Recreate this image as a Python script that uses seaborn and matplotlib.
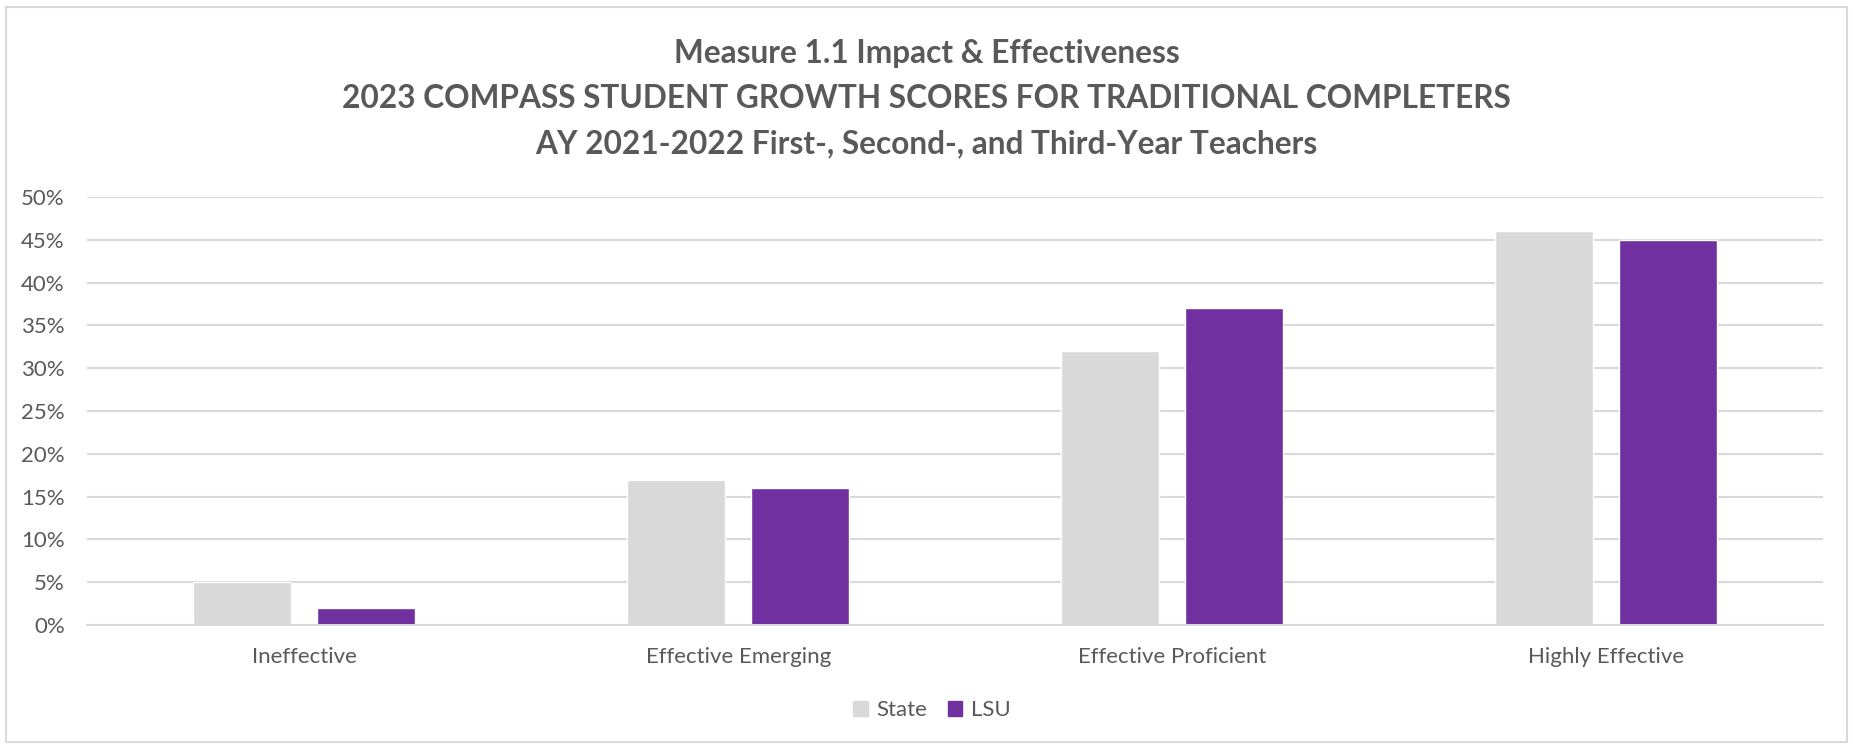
import matplotlib
matplotlib.use('Agg')
import matplotlib.pyplot as plt
import matplotlib.patches as mpatches
import seaborn as sns
import pandas as pd

categories = ['Ineffective', 'Effective Emerging', 'Effective Proficient', 'Highly Effective']
state_vals = [5, 17, 32, 46]
lsu_vals = [2, 16, 37, 45]
series = ['State', 'LSU']
title_lines = ['Measure 1.1 Impact & Effectiveness',
               '2023 COMPASS STUDENT GROWTH SCORES FOR TRADITIONAL COMPLETERS',
               'AY 2021-2022 First-, Second-, and Third-Year Teachers']
y_ticks = [0, 5, 10, 15, 20, 25, 30, 35, 40, 45, 50]

sns.set_theme(style='white')
plt.rcParams['font.family'] = ['Lato', 'DejaVu Sans']
text_col = '#595959'
grid_col = '#d9d9d9'
colors = {'State': '#d9d9d9', 'LSU': '#7030a0'}

df = pd.DataFrame({
    'category': categories * 2,
    'series': ['State'] * len(categories) + ['LSU'] * len(categories),
    'value': state_vals + lsu_vals,
})

fig = plt.figure(figsize=(18.53, 7.45), dpi=100)
ax = fig.add_axes([0.047, 0.161, 0.937, 0.5746])

sns.barplot(data=df, x='category', y='value', hue='series', hue_order=series,
            order=categories, palette=colors, width=0.572, gap=0.21,
            saturation=1, ax=ax, legend=False)

ax.set_ylim(0, 50)
ax.set_xlim(-0.5, len(categories) - 0.5)
ax.set_yticks(y_ticks)
ax.set_yticklabels([f'{t}%' for t in y_ticks])
ax.set_axisbelow(True)
ax.yaxis.grid(True, color=grid_col, linewidth=1.5)
ax.set_xlabel('')
ax.set_ylabel('')
for s in ['top', 'right', 'left']:
    ax.spines[s].set_visible(False)
ax.spines['bottom'].set_color(grid_col)
ax.spines['bottom'].set_linewidth(1.5)
ax.tick_params(axis='both', length=0, labelsize=16, labelcolor=text_col)
ax.tick_params(axis='x', pad=16)
ax.tick_params(axis='y', pad=16)

# title lines (baseline placed)
for y, line in zip([0.915, 0.8546, 0.7942], title_lines):
    fig.text(0.5, y, line, ha='center', va='baseline', fontsize=22.8,
             fontweight='bold', color=text_col)

handles = [mpatches.Patch(color=colors[s], label=s) for s in series]
fig.legend(handles=handles, loc='center', bbox_to_anchor=(0.503, 0.047), ncol=2,
           frameon=False, fontsize=16, handlelength=0.65, handleheight=0.65,
           handletextpad=0.4, columnspacing=0.9, labelcolor=text_col)

# chart border
fig.patches.append(mpatches.Rectangle((0.003, 0.004), 0.994, 0.987, transform=fig.transFigure,
                                      fill=False, edgecolor=grid_col, linewidth=1.5))

plt.savefig('out.png', dpi=100)
plt.close()
